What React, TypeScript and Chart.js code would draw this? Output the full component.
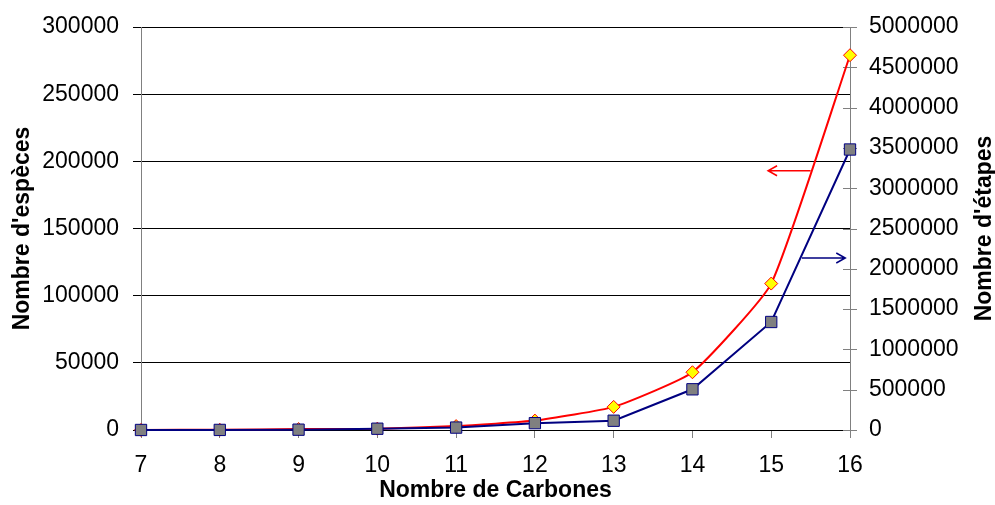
import React, { useEffect, useRef } from 'react';
import { Chart, registerables } from 'chart.js';

Chart.register(...registerables);

// ---- Data ----
const carbons = [7, 8, 9, 10, 11, 12, 13, 14, 15, 16];
const species = [50, 200, 700, 1000, 2900, 7000, 17200, 43000, 109000, 279000];
const steps = [300, 1000, 4000, 16000, 30000, 85000, 115000, 505000, 1340000, 3480000];

const leftMin = 0;
const leftMax = 300000;
const leftStep = 50000;
const rightMin = 0;
const rightMax = 5000000;
const rightStep = 500000;

// annotation arrows (data coordinates)
const redArrowX = [15.5, 14.96]; // from -> head
const redArrowY = 193000; // left axis
const blueArrowX = [15.39, 15.94]; // from -> head
const blueArrowY = 2134000; // right axis

const xTitle = 'Nombre de Carbones';
const leftTitle = "Nombre d'espèces";
const rightTitle = "Nombre d'étapes";

const FONT = '"Liberation Sans", Arial, sans-serif';

function drawArrow(ctx: CanvasRenderingContext2D, x1: number, x2: number, y: number, color: string) {
  const dir = x2 > x1 ? 1 : -1;
  ctx.save();
  ctx.strokeStyle = color;
  ctx.lineWidth = 1.5;
  ctx.beginPath();
  ctx.moveTo(x1, y);
  ctx.lineTo(x2, y);
  ctx.moveTo(x2 - dir * 9, y - 5);
  ctx.lineTo(x2, y);
  ctx.lineTo(x2 - dir * 9, y + 5);
  ctx.stroke();
  ctx.restore();
}

const overlay = {
  id: 'overlay',
  beforeDatasetsDraw(chart: any) {
    const ctx = chart.ctx as CanvasRenderingContext2D;
    const yR = chart.scales.yR;
    ctx.save();
    ctx.strokeStyle = '#808080';
    ctx.lineWidth = 1;
    yR.ticks.forEach((_t: any, i: number) => {
      const y = Math.round(yR.getPixelForTick(i)) + 0.5;
      ctx.beginPath();
      ctx.moveTo(yR.left - 7, y);
      ctx.lineTo(yR.left + 7, y);
      ctx.stroke();
    });
    ctx.restore();
  },
  afterDatasetsDraw(chart: any) {
    const ctx = chart.ctx as CanvasRenderingContext2D;
    const x = chart.scales.x;
    const yL = chart.scales.yL;
    const yR = chart.scales.yR;
    drawArrow(
      ctx,
      x.getPixelForValue(redArrowX[0]),
      x.getPixelForValue(redArrowX[1]),
      yL.getPixelForValue(redArrowY),
      '#FF0000'
    );
    drawArrow(
      ctx,
      x.getPixelForValue(blueArrowX[0]),
      x.getPixelForValue(blueArrowX[1]),
      yR.getPixelForValue(blueArrowY),
      '#000080'
    );
  },
  afterDraw(chart: any) {
    const ctx = chart.ctx as CanvasRenderingContext2D;
    const area = chart.chartArea;
    ctx.save();
    ctx.translate(985, (area.top + area.bottom) / 2);
    ctx.rotate(-Math.PI / 2);
    ctx.font = `bold 23px ${FONT}`;
    ctx.fillStyle = '#000000';
    ctx.textAlign = 'center';
    ctx.textBaseline = 'middle';
    ctx.fillText(rightTitle, 0, 0);
    ctx.restore();
  },
};

export default function App() {
  const ref = useRef<HTMLCanvasElement | null>(null);

  useEffect(() => {
    document.body.style.margin = '0';
    const canvas = ref.current;
    if (!canvas) return;
    const chart = new Chart(canvas, {
      type: 'line',
      data: {
        datasets: [
          {
            label: 'Étapes',
            data: carbons.map((c, i) => ({ x: c, y: steps[i] })),
            yAxisID: 'yR',
            borderColor: '#000080',
            borderWidth: 2,
            backgroundColor: '#808080',
            pointStyle: 'rect',
            pointRadius: 8,
            pointBorderColor: '#000080',
            pointBackgroundColor: '#808080',
            pointBorderWidth: 1,
            tension: 0,
            clip: false,
          },
          {
            label: 'Espèces',
            data: carbons.map((c, i) => ({ x: c, y: species[i] })),
            yAxisID: 'yL',
            borderColor: '#FF0000',
            borderWidth: 2,
            backgroundColor: '#FFFF00',
            pointStyle: 'rectRot',
            pointRadius: 6.5,
            pointBorderColor: '#FF0000',
            pointBackgroundColor: '#FFFF00',
            pointBorderWidth: 1,
            tension: 0.15,
            clip: false,
          },
        ],
      },
      options: {
        animation: false,
        responsive: false,
        maintainAspectRatio: false,
        layout: { padding: { top: 27, left: 0, right: 0, bottom: 0 } },
        plugins: {
          legend: { display: false },
          tooltip: { enabled: false },
        },
        scales: {
          x: {
            type: 'linear',
            min: carbons[0],
            max: carbons[carbons.length - 1],
            afterFit: (s: any) => {
              s.height = 75;
              s.paddingLeft = 0;
              s.paddingRight = 0;
            },
            ticks: {
              stepSize: 1,
              autoSkip: false,
              maxRotation: 0,
              color: '#000000',
              padding: 14,
              font: { family: FONT, size: 23 },
            },
            grid: {
              drawOnChartArea: false,
              drawTicks: true,
              tickLength: 8,
              tickColor: '#808080',
              color: '#808080',
            },
            border: { display: true, color: '#000000', width: 1 },
            title: {
              display: true,
              text: xTitle,
              color: '#000000',
              font: { family: FONT, size: 23, weight: 'bold' },
              padding: { top: 0, bottom: 1 },
            },
          },
          yL: {
            type: 'linear',
            position: 'left',
            min: leftMin,
            max: leftMax,
            afterFit: (s: any) => {
              s.width = 141;
              s.paddingTop = 0;
              s.paddingBottom = 0;
            },
            ticks: {
              stepSize: leftStep,
              color: '#000000',
              padding: 14,
              font: { family: FONT, size: 23 },
              callback: (v: any) => String(v),
            },
            grid: {
              color: '#000000',
              lineWidth: 1,
              drawTicks: true,
              tickLength: 8,
              tickColor: '#000000',
            },
            border: { display: true, color: '#808080', width: 1 },
            title: {
              display: true,
              text: leftTitle,
              color: '#000000',
              font: { family: FONT, size: 23, weight: 'bold' },
              padding: { top: 9, bottom: 0 },
            },
          },
          yR: {
            type: 'linear',
            position: 'right',
            min: rightMin,
            max: rightMax,
            afterFit: (s: any) => {
              s.width = 145;
              s.paddingTop = 0;
              s.paddingBottom = 0;
            },
            ticks: {
              stepSize: rightStep,
              color: '#000000',
              padding: 19,
              font: { family: FONT, size: 23 },
              callback: (v: any) => String(v),
            },
            grid: { display: false, drawTicks: false, drawOnChartArea: false },
            border: { display: true, color: '#808080', width: 1 },
          },
        },
      },
      plugins: [overlay],
    } as any);
    return () => chart.destroy();
  }, []);

  return (
    <div style={{ width: 995, height: 505, background: '#ffffff' }}>
      <canvas ref={ref} width={995} height={505} style={{ display: 'block' }} />
    </div>
  );
}
